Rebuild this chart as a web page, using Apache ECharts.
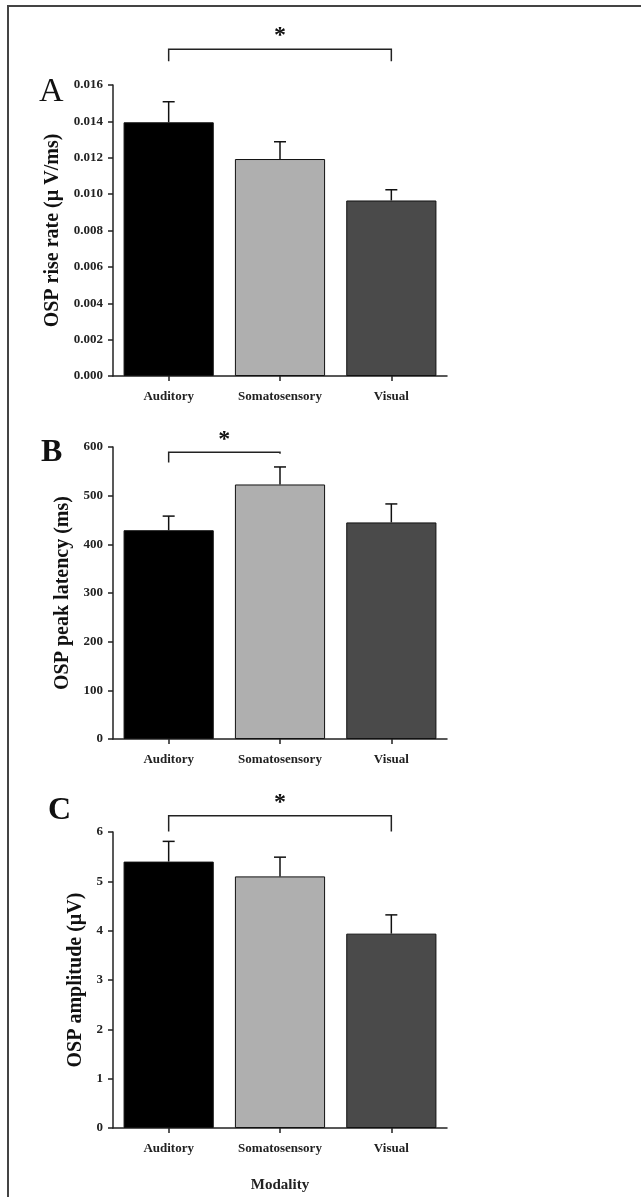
<!DOCTYPE html>
<html>
<head>
<meta charset="utf-8">
<script src="https://cdn.jsdelivr.net/npm/echarts@6/dist/echarts.min.js"></script>
<style>
html,body{margin:0;padding:0;background:#fff;}
#chart{width:641px;height:1197px;}
</style>
</head>
<body>
<div id="chart"></div>
<script>
// ---- data ----
const categories = ['Auditory', 'Somatosensory', 'Visual'];
const riseRate = [0.01395, 0.01193, 0.00965];
const riseRateSem = [0.00113, 0.00095, 0.00059];
const peakLatency = [429, 523, 445];
const peakLatencySem = [29, 36, 38];
const amplitude = [5.40, 5.10, 3.94];
const amplitudeSem = [0.41, 0.39, 0.38];
const axisA = {min: 0, max: 0.016, interval: 0.002};
const axisB = {min: 0, max: 600, interval: 100};
const axisC = {min: 0, max: 6, interval: 1};
const panelNames = ['A', 'B', 'C'];
const yNames = ['OSP rise rate (\u00b5 V/ms)', 'OSP peak latency (ms)', 'OSP amplitude (\u00b5V)'];
const xName = 'Modality';
// significance comparisons: [from category, to category]
const sigA = [0, 2];
const sigB = [0, 1];
const sigC = [0, 2];

// ---- style / geometry ----
const FONT = '"Liberation Serif","DejaVu Serif",serif';
const barColors = ['#000000', '#afafaf', '#4a4a4a'];
const grids = [
  {left: 113, top: 85, width: 334, height: 291},
  {left: 113, top: 447, width: 334, height: 292},
  {left: 113, top: 832, width: 334, height: 296}
];
// bracket levels in value units: [bar level, left drop end, right drop end]
const bracketLevels = [
  [0.01797, 0.0173, 0.0173],
  [589, 568, 586],
  [6.33, 6.01, 6.01]
];

function yAxisOpt(i, ax, fmt, gap) {
  return {
    type: 'value', gridIndex: i, min: ax.min, max: ax.max, interval: ax.interval,
    splitLine: {show: false},
    axisLine: {show: true, lineStyle: {color: '#222', width: 1.5}},
    axisTick: {show: true, length: 5, lineStyle: {color: '#222', width: 1.5}},
    axisLabel: {fontFamily: FONT, fontWeight: 'bold', fontSize: 13, color: '#222', margin: 10, formatter: fmt},
    name: yNames[i], nameLocation: 'middle', nameGap: gap,
    nameTextStyle: {fontFamily: FONT, fontWeight: 'bold', fontSize: 20, color: '#111'}
  };
}
function xAxisOpt(i) {
  const o = {
    type: 'category', gridIndex: i, data: categories,
    axisLine: {show: true, lineStyle: {color: '#222', width: 1.5}},
    axisTick: {show: true, alignWithLabel: true, length: 5, lineStyle: {color: '#222', width: 1.5}},
    axisLabel: {fontFamily: FONT, fontWeight: 'bold', fontSize: 13, color: '#222', margin: 14}
  };
  if (i === 2) {
    o.name = xName; o.nameLocation = 'middle'; o.nameGap = 50;
    o.nameTextStyle = {fontFamily: FONT, fontWeight: 'bold', fontSize: 15, color: '#222'};
  }
  return o;
}
function barSeries(i, vals) {
  return {
    type: 'bar', xAxisIndex: i, yAxisIndex: i, barCategoryGap: '19%',
    data: vals.map((v, k) => ({value: v, itemStyle: {color: barColors[k], borderColor: '#111', borderWidth: 1}})),
    silent: true, z: 2
  };
}
function errSeries(i, vals, sems) {
  return {
    type: 'custom', xAxisIndex: i, yAxisIndex: i, z: 3, silent: true,
    data: vals.map((v, k) => [k, v, v + sems[k]]),
    renderItem: function (params, api) {
      const p0 = api.coord([api.value(0), api.value(1)]);
      const p1 = api.coord([api.value(0), api.value(2)]);
      const st = {stroke: '#111', lineWidth: 1.5};
      return {type: 'group', children: [
        {type: 'line', shape: {x1: p0[0], y1: p0[1], x2: p1[0], y2: p1[1]}, style: st},
        {type: 'line', shape: {x1: p1[0] - 6, y1: p1[1], x2: p1[0] + 6, y2: p1[1]}, style: st}
      ]};
    }
  };
}
function sigSeries(i, pair) {
  const lv = bracketLevels[i];
  return {
    type: 'custom', xAxisIndex: i, yAxisIndex: i, z: 4, silent: true, clip: false,
    data: [[pair[0], pair[1]]],
    renderItem: function (params, api) {
      const a = api.coord([api.value(0), lv[0]]);
      const b = api.coord([api.value(1), lv[0]]);
      const aEnd = api.coord([api.value(0), lv[1]]);
      const bEnd = api.coord([api.value(1), lv[2]]);
      const st = {stroke: '#222', lineWidth: 1.5};
      return {type: 'group', children: [
        {type: 'polyline', shape: {points: [[aEnd[0], aEnd[1]], [a[0], a[1]], [b[0], b[1]], [bEnd[0], bEnd[1]]]}, style: Object.assign({fill: null}, st)},
        {type: 'text', x: (a[0] + b[0]) / 2, y: a[1] - 13,
          style: {text: '*', fontFamily: FONT, fontWeight: 'bold', fontSize: 24, fill: '#111', align: 'center', verticalAlign: 'middle'}}
      ]};
    }
  };
}

const chart = echarts.init(document.getElementById('chart'), null, {renderer: 'canvas'});
chart.setOption({
  backgroundColor: '#ffffff',
  animation: false,
  grid: grids,
  xAxis: [xAxisOpt(0), xAxisOpt(1), xAxisOpt(2)],
  yAxis: [
    yAxisOpt(0, axisA, v => v.toFixed(3), 50),
    yAxisOpt(1, axisB, v => String(v), 39),
    yAxisOpt(2, axisC, v => String(v), 26)
  ],
  title: [
    {text: panelNames[0], left: 34, top: 70, textStyle: {fontFamily: FONT, fontWeight: 'normal', fontSize: 34, color: '#111'}},
    {text: panelNames[1], left: 36, top: 432, textStyle: {fontFamily: FONT, fontWeight: 'bold', fontSize: 32, color: '#111'}},
    {text: panelNames[2], left: 43, top: 790, textStyle: {fontFamily: FONT, fontWeight: 'bold', fontSize: 32, color: '#111'}}
  ],
  graphic: [
    {type: 'polyline', shape: {points: [[8, 1197], [8, 6], [641, 6]]}, style: {stroke: '#444', lineWidth: 2, fill: null}}
  ],
  series: [
    barSeries(0, riseRate), errSeries(0, riseRate, riseRateSem), sigSeries(0, sigA),
    barSeries(1, peakLatency), errSeries(1, peakLatency, peakLatencySem), sigSeries(1, sigB),
    barSeries(2, amplitude), errSeries(2, amplitude, amplitudeSem), sigSeries(2, sigC)
  ]
});
</script>
</body>
</html>
